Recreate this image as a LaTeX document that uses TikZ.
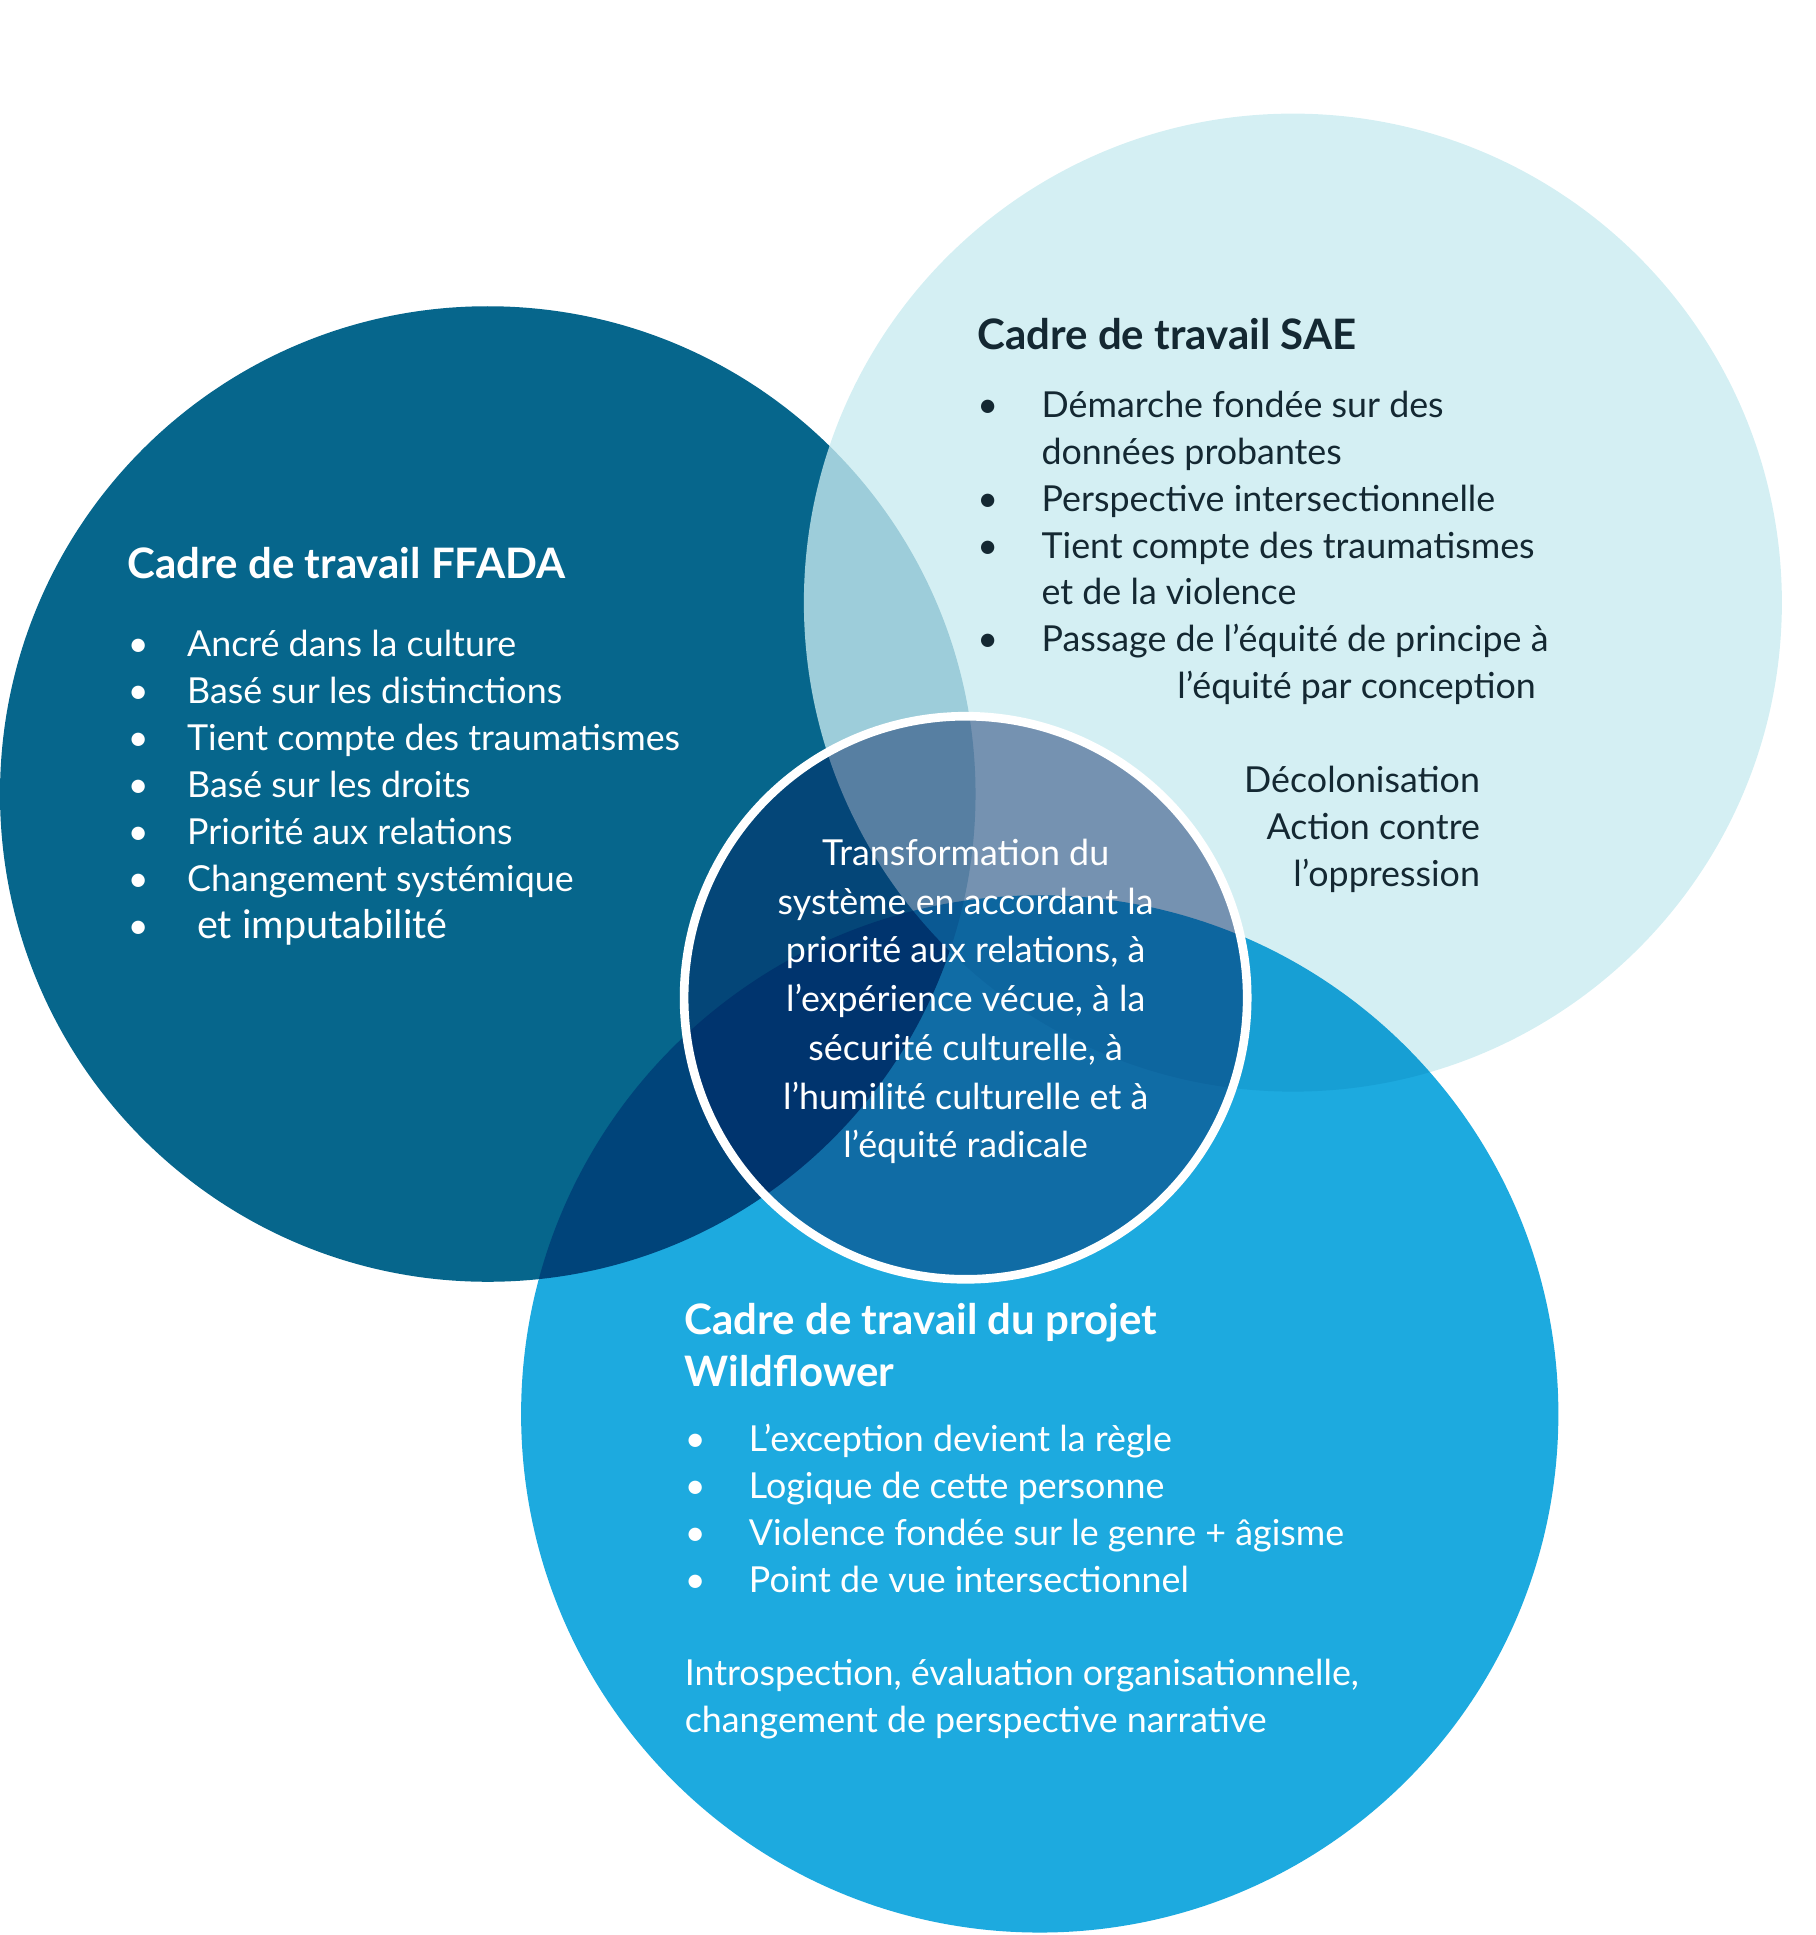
\documentclass[tikz,border=0pt]{standalone}
\usepackage{fontspec}
\setmainfont{Lato}
\definecolor{ffada}{RGB}{6,102,140}
\definecolor{sae}{RGB}{200,235,240}
\definecolor{wild}{RGB}{29,170,223}
\definecolor{dtxt}{RGB}{20,40,50}
\begin{document}
\begin{tikzpicture}[x=1pt,y=-1pt,
  body/.style={font=\fontsize{29}{38}\selectfont,align=left,anchor=north west},
  head/.style={font=\fontsize{34}{42}\selectfont\bfseries,align=left,anchor=north west}]
\useasboundingbox (0,0) rectangle (1470,1567);
\fill[ffada] (395,643) circle (395);
\fill[sae,opacity=0.78] (1047,488) circle (396);
\begin{scope}[blend mode=multiply]
\fill[wild] (842,1145) circle (420);
\end{scope}
\fill[ffada!40!black!80!blue,opacity=0.45] (782,808) circle (226);
\draw[white,line width=7] (782,808) circle (228);
\node[head,text=white] (h1) at (100,440) {Cadre de travail FFADA};
\node[body,text=white] (b1) at (100,507) {%
\makebox[48pt][l]{•}Ancré dans la culture\\
\makebox[48pt][l]{•}Basé sur les distinctions\\
\makebox[48pt][l]{•}Tient compte des traumatismes\\
\makebox[48pt][l]{•}Basé sur les droits\\
\makebox[48pt][l]{•}Priorité aux relations\\
\makebox[48pt][l]{•}Changement systémique\\
\makebox[48pt][l]{•}{\fontsize{32}{38}\selectfont\ et imputabilité}};
\node[head,text=dtxt] (h2) at (788,254) {Cadre de travail SAE};
\node[body,text=dtxt] (b2) at (788,313) {%
\makebox[52pt][l]{•}Démarche fondée sur des\\
\hspace*{52pt}données probantes\\
\makebox[52pt][l]{•}Perspective intersectionnelle\\
\makebox[52pt][l]{•}Tient compte des traumatismes\\
\hspace*{52pt}et de la violence\\
\makebox[52pt][l]{•}Passage de l’équité de principe à\\
\hspace*{162pt}l’équité par conception};
\node[body,text=dtxt,align=right,anchor=north east] (b3) at (1202,617) {Décolonisation\\Action contre\\l’oppression};
\node[font=\fontsize{29}{39.5}\selectfont,text=white,align=center] (c) at (782,811) {Transformation du\\système en accordant la\\priorité aux relations, à\\l'expérience vécue, à la\\sécurité culturelle, à\\l'humilité culturelle et à\\l'équité radicale};
\node[head,text=white] (h4) at (551,1052) {Cadre de travail du projet\\Wildflower};
\node[body,text=white] (b4) at (551,1150) {%
\makebox[52pt][l]{•}L’exception devient la règle\\
\makebox[52pt][l]{•}Logique de cette personne\\
\makebox[52pt][l]{•}Violence fondée sur le genre + âgisme\\
\makebox[52pt][l]{•}Point de vue intersectionnel};
\node[body,text=white] (b5) at (551,1340) {Introspection, évaluation organisationnelle,\\changement de perspective narrative};
\end{tikzpicture}
\end{document}
